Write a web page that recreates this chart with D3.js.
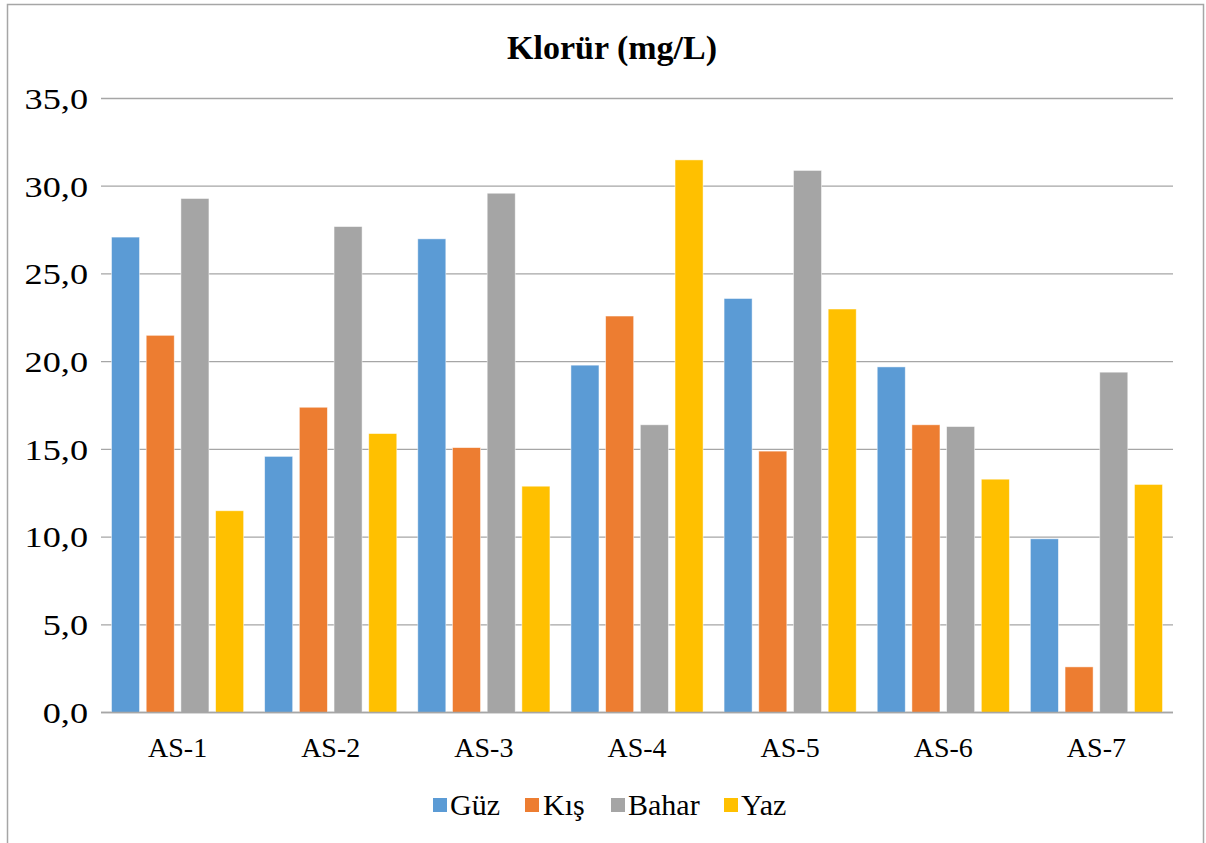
<!DOCTYPE html>
<html>
<head>
<meta charset="utf-8">
<script src="https://cdn.jsdelivr.net/npm/d3@7"></script>
<style>
  html, body { margin: 0; padding: 0; background: #fff; }
  svg { display: block; }
  svg text { font-family: "Times New Roman", Times, "Liberation Serif", "DejaVu Serif", serif !important; fill: #000; }
</style>
</head>
<body>
<svg id="chart" width="1206" height="843"></svg>
<script>
// Sampling stations
const stations = ["AS-1", "AS-2", "AS-3", "AS-4", "AS-5", "AS-6", "AS-7"];
// Seasons (series)
const seasons = ["Güz", "Kış", "Bahar", "Yaz"];
// Chloride concentration (mg/L) per season, one value per station
const guz   = [27.1, 14.6, 27.0, 19.8, 23.6, 19.7, 9.9];
const kis   = [21.5, 17.4, 15.1, 22.6, 14.9, 16.4, 2.6];
const bahar = [29.3, 27.7, 29.6, 16.4, 30.9, 16.3, 19.4];
const yaz   = [11.5, 15.9, 12.9, 31.5, 23.0, 13.3, 13.0];
// Value axis ticks
const yTicks = [0, 5, 10, 15, 20, 25, 30, 35];

const seriesValues = [guz, kis, bahar, yaz];
const colors = ["#5B9BD5", "#ED7D31", "#A5A5A5", "#FFC000"];

const svg = d3.select("#chart");
const plot = { left: 101, right: 1173, top: 98.5, bottom: 712.5 };

// Chart frame
svg.append("rect")
  .attr("x", 7.5).attr("y", 4.5)
  .attr("width", 1196).attr("height", 860)
  .attr("fill", "#fff")
  .attr("stroke", "#a6a6a6").attr("stroke-width", 1.5);

// Title
svg.append("text")
  .attr("x", 612).attr("y", 59)
  .attr("text-anchor", "middle")
  .style("font-size", "34px").style("font-weight", "bold")
  .text("Klorür (mg/L)");

const x0 = d3.scaleBand().domain(stations).range([plot.left, plot.right]).padding(0);
const groupPad = 10.5;
const x1 = d3.scaleBand().domain(seasons)
  .range([groupPad, x0.bandwidth() - groupPad])
  .paddingInner(0.192).paddingOuter(0);
const y = d3.scaleLinear().domain([0, 35]).range([plot.bottom, plot.top]);

// Horizontal gridlines
svg.append("g").selectAll("line").data(yTicks).join("line")
  .attr("x1", plot.left).attr("x2", plot.right)
  .attr("y1", d => y(d)).attr("y2", d => y(d))
  .attr("stroke", "#a6a6a6").attr("stroke-width", 1.3);

// Y axis labels (slightly widened glyphs)
const yAxis = d3.axisLeft(y).tickValues(yTicks)
  .tickFormat(d => d3.format(".1f")(d).replace(".", ","))
  .tickSize(0).tickPadding(0);
const yg = svg.append("g").attr("transform", `translate(${plot.left - 13},0)`).call(yAxis);
yg.attr("font-family", null);
yg.select(".domain").remove();
yg.selectAll("text").style("font-size", "29px").attr("dy", "0.34em")
  .attr("transform", "scale(1.25,1)");

// Bars
const table = stations.map((s, i) => ({ station: s, values: seasons.map((k, j) => ({ key: k, idx: j, v: seriesValues[j][i] })) }));
svg.append("g").selectAll("g").data(table).join("g")
  .attr("transform", d => `translate(${x0(d.station)},0)`)
  .selectAll("rect").data(d => d.values).join("rect")
  .attr("x", d => x1(d.key))
  .attr("width", x1.bandwidth())
  .attr("y", d => y(d.v))
  .attr("height", d => y(0) - y(d.v))
  .attr("fill", d => colors[d.idx])
  .attr("stroke", "#ffffff").attr("stroke-width", 0.8).attr("stroke-opacity", 0.6);

// Baseline
svg.append("line")
  .attr("x1", plot.left).attr("x2", plot.right)
  .attr("y1", y(0)).attr("y2", y(0))
  .attr("stroke", "#a6a6a6").attr("stroke-width", 1.5);

// X axis labels
const xAxis = d3.axisBottom(x0).tickSize(0).tickPadding(0);
const xg = svg.append("g").attr("transform", `translate(0,${plot.bottom})`).call(xAxis);
xg.attr("font-family", null);
xg.select(".domain").remove();
xg.selectAll("text").style("font-size", "28px").attr("y", 0).attr("dy", 44.5);

// Legend
const legendItems = [
  { key: "Güz", sq: 433, tx: 450 },
  { key: "Kış", sq: 525, tx: 543 },
  { key: "Bahar", sq: 611, tx: 628 },
  { key: "Yaz", sq: 724, tx: 741 }
];
const lg = svg.append("g");
legendItems.forEach(it => {
  lg.append("rect").attr("x", it.sq).attr("y", 798).attr("width", 14).attr("height", 14)
    .attr("fill", colors[seasons.indexOf(it.key)]);
  lg.append("text").attr("x", it.tx).attr("y", 815)
    .style("font-size", "30px").text(it.key);
});
</script>
</body>
</html>
